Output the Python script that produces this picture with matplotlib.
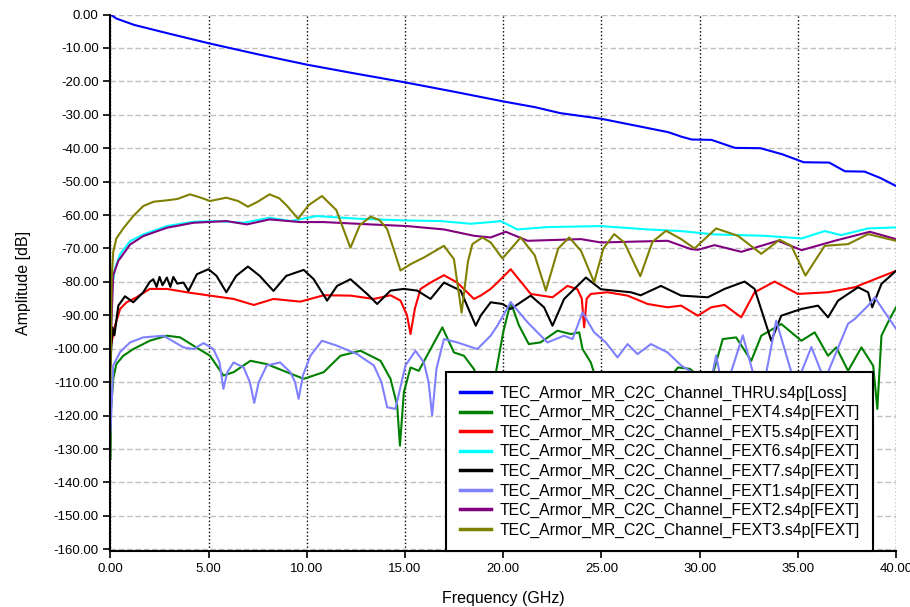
import matplotlib
matplotlib.use("Agg")
import matplotlib.pyplot as plt

plt.rcParams['font.family'] = ['Liberation Sans', 'DejaVu Sans']

# THRU loss
thru_f = [0, 0.3, 1.2, 2.9, 5, 7.5, 10, 12.5, 15, 17.5, 20, 21.6, 22.9, 25, 26.7, 28.4,
          29.1, 29.6, 30.6, 31.8, 33.1, 34.2, 35.3, 36.6, 37.4, 38.4, 39.2, 40]
thru_db = [0, -1.2, -3.1, -5.6, -8.6, -11.9, -15.0, -17.7, -20.3, -23.1, -26.0, -27.7,
           -29.5, -31.2, -33.2, -35.2, -36.6, -37.4, -37.5, -39.9, -40.0, -41.8, -44.2,
           -44.3, -46.9, -47.0, -48.9, -51.3]

# FEXT4 (green)
f4_f = [0, 0.03, 0.14, 0.3, 0.65, 1.16, 2.0, 2.87, 3.55, 4.23, 5.07, 5.75, 6.27, 7.13,
        7.96, 8.98, 9.84, 10.86, 11.71, 12.73, 13.75, 14.26, 14.6, 14.74, 14.94, 15.28,
        15.7, 16.3, 16.9, 17.49, 18.0, 18.51, 19.0, 19.6, 20.0, 20.38, 20.8, 21.3, 21.9,
        22.76, 23.44, 23.87, 24.04, 24.46, 25.2, 26.2, 27.3, 28.3, 28.9, 29.5, 29.9,
        30.3, 30.7, 31.18, 31.86, 32.63, 33.14, 34.16, 35.18, 35.86, 36.54, 36.96, 37.56,
        38.24, 38.84, 39.05, 39.26, 39.6, 40]
f4_db = [-133, -118, -109, -104.6, -102.1, -100.1, -97.6, -96.1, -96.6, -99.1, -102.1,
         -108, -107, -103.6, -104.6, -107, -109, -107, -102.1, -100.6, -103.6, -109, -117,
         -129, -113, -105.6, -106.6, -100.1, -93.6, -101.1, -102.1, -106.1, -114, -108,
         -95, -86.1, -93, -98.6, -98.1, -94.6, -95.6, -95.1, -100.1, -104.1, -118, -107,
         -118, -110, -105.6, -106, -108, -118, -107, -97.1, -96.6, -103.6, -96.1, -92.6,
         -97.6, -95.1, -102.1, -99.6, -106.6, -99.6, -105.1, -118, -96.1, -92, -87.6]

# FEXT5 (red)
f5_f = [0, 0.06, 0.23, 0.49, 0.82, 1.33, 2.0, 2.87, 3.88, 5.07, 6.27, 7.3, 8.3, 9.67,
        10.86, 12.22, 13.41, 14.26, 14.77, 15.1, 15.28, 15.5, 15.79, 16.3, 16.98, 17.66,
        18.51, 18.85, 19.36, 19.7, 20.38, 21.4, 22.51, 23.27, 23.78, 24.0, 24.12, 24.25,
        24.46, 25.31, 26.33, 27.35, 28.37, 29.06, 29.91, 30.59, 31.27, 32.12, 32.8, 33.82,
        35.0, 36.54, 37.9, 38.92, 40]
f5_db = [-100, -98, -93.1, -88.1, -86.1, -84.6, -82.1, -82.1, -83.1, -84.1, -85.1, -86.9,
         -85.1, -85.9, -84, -84.1, -85.1, -84, -85.6, -90, -95.6, -88, -82.1, -80.2, -78,
         -80.2, -85.1, -84.1, -82.1, -80.2, -76.2, -83.6, -84.6, -81.2, -82.2, -85, -93.6,
         -85, -83.6, -83.1, -84.1, -86.6, -87.6, -87.1, -90.1, -87.6, -86.9, -90.6, -83.1,
         -79.9, -83.6, -83.1, -81.6, -79.2, -76.7]

# FEXT6 (cyan)
f6_f = [0, 0.06, 0.23, 0.49, 1.0, 1.67, 2.87, 4.23, 5.4, 6.8, 8.1, 9.16, 10.5, 12.6,
        14.94, 16.8, 18.35, 19.36, 19.87, 20.72, 22.25, 24.97, 27.35, 29.06, 30.76, 33.3,
        35.2, 36.37, 37.2, 38.58, 40]
f6_db = [-100, -82, -76, -71.7, -67.8, -65.8, -63.3, -62, -61.8, -62.3, -60.8, -61.8,
         -60.3, -61.1, -61.6, -61.8, -62.6, -62.1, -61.8, -64.3, -63.6, -63.3, -64.3,
         -64.8, -65.8, -66.2, -67, -64.8, -66, -64, -63.7]

# FEXT7 (black)
f7_f = [0, 0.03, 0.1, 0.2, 0.4, 0.74, 1.16, 1.67, 2.0, 2.18, 2.35, 2.5, 2.65, 2.87, 3.05,
        3.2, 3.4, 3.72, 3.97, 4.4, 4.99, 5.4, 5.9, 6.4, 7.0, 7.6, 8.3, 8.95, 9.84, 10.35,
        11.03, 11.54, 12.22, 13.07, 13.58, 14.26, 14.94, 15.62, 16.3, 16.98, 17.83, 18.6,
        18.85, 19.36, 19.96, 20.38, 21.4, 22.08, 22.51, 23.1, 24.21, 24.97, 26.5, 27.0,
        28.03, 29.06, 30.42, 31.27, 32.29, 32.8, 33.65, 34.16, 35.18, 36.03, 36.54, 37.05,
        38.07, 38.58, 38.79, 39.26, 40]
f7_db = [-105, -101, -93.6, -96, -87.1, -84.3, -86.1, -83.1, -80, -79.2, -81.5, -78.5,
         -81, -78.7, -81.5, -78.5, -80.5, -80.2, -82.7, -77.7, -76.2, -78.2, -83.1, -78.2,
         -75.4, -78.2, -82.7, -78.2, -76.4, -79.2, -85.6, -81.2, -79.2, -83.6, -86.6,
         -82.6, -82.1, -82.6, -85.1, -80.2, -82.6, -93.1, -90.1, -86.1, -86.6, -88.1,
         -84.1, -87.6, -93.1, -85.1, -78.7, -82.2, -83.1, -84, -81.2, -84.1, -84.6, -82.1,
         -79.9, -82.1, -97.6, -90.1, -88.1, -87.1, -90.6, -85.6, -81.6, -83.1, -87.6,
         -80.6, -76.7]

# FEXT1 (lavender)
f1_f = [0, 0.14, 0.49, 1.0, 1.67, 2.7, 3.72, 4.23, 4.74, 5.24, 5.55, 5.75, 5.95, 6.27,
        6.78, 7.1, 7.32, 7.55, 7.96, 8.64, 9.16, 9.4, 9.58, 9.8, 10.18, 10.77, 11.54,
        12.56, 13.41, 13.8, 14.09, 14.51, 15.02, 15.53, 15.96, 16.2, 16.38, 16.6, 16.98,
        17.66, 18.68, 19.36, 19.7, 20.38, 21.24, 22.25, 23.1, 23.53, 24.04, 24.63, 25.22,
        25.82, 26.33, 26.84, 27.52, 28.37, 29.06, 29.74, 30.2, 30.67, 30.84, 31.01, 31.3,
        31.6, 32.2, 32.71, 33.05, 33.4, 33.9, 34.67, 34.95, 35.18, 35.69, 36.2, 36.35,
        36.54, 37.56, 37.9, 38.58, 38.92, 39.43, 40]
f1_db = [-125, -105, -101, -98.1, -96.6, -96.1, -99.6, -100.1, -98.3, -100.1, -104,
         -112, -107, -104.1, -105.6, -110, -116.2, -110, -105, -104.1, -107, -110, -115,
         -108, -102.1, -97.6, -99.1, -101.6, -105, -110, -117.5, -118, -105, -100.6,
         -104.1, -110, -120, -106, -97.1, -98.1, -100.1, -96.1, -93.1, -86.1, -92.1, -98.1,
         -96.1, -97.1, -89.1, -95.1, -98.1, -102.6, -98.6, -101.6, -98.6, -101.1, -105,
         -107.5, -118, -107, -102, -107, -118, -107, -96, -107, -118, -107, -91.6, -107,
         -118, -107, -99.5, -107, -113, -107, -92.5, -91.1, -87.1, -84.6, -89.1, -94]

# FEXT2 (purple)
f2_f = [0, 0.14, 0.4, 1.0, 1.67, 2.87, 4.23, 5.9, 6.95, 8.1, 9.67, 10.86, 13.24, 15.11,
        16.98, 18.51, 19.36, 20.13, 21.24, 23.96, 24.97, 28.37, 29.56, 29.91, 30.76, 32.12,
        33.99, 35.2, 36.88, 38.67, 40]
f2_db = [-100, -78, -73.7, -68.8, -66.3, -63.8, -62.3, -61.8, -62.8, -61.3, -62.1, -62.1,
         -62.8, -63.3, -64.3, -66.2, -66.7, -65, -67.7, -67.2, -68.2, -67.7, -70.2, -70.4,
         -69, -71, -67.7, -70.5, -67.7, -65, -67.2]

# FEXT3 (olive)
f3_f = [0, 0.06, 0.14, 0.3, 0.65, 1.16, 1.67, 2.2, 2.87, 3.4, 4.05, 4.6, 5.07, 5.9, 6.5,
        7.0, 7.5, 8.1, 8.6, 9.0, 9.55, 10.1, 10.77, 11.5, 12.22, 12.7, 13.24, 13.7, 14.09,
        14.77, 15.28, 15.96, 16.98, 17.49, 17.88, 18.2, 18.43, 18.94, 19.36, 19.96, 20.89,
        21.6, 22.17, 22.8, 23.36, 23.96, 24.63, 25.1, 25.65, 26.16, 26.98, 27.6, 28.29,
        29.06, 29.74, 30.84, 31.95, 33.14, 34.07, 34.67, 35.39, 36.37, 37.56, 38.58, 40]
f3_db = [-110, -79, -71, -67, -64, -60.3, -57.3, -56, -55.6, -55.2, -53.8, -54.8, -55.8,
         -54.8, -55.8, -57.5, -56, -53.8, -55, -57.3, -61.1, -57, -54.3, -58.5, -69.8, -63,
         -60.5, -61.5, -64.2, -76.6, -74.7, -72.7, -69.2, -73.2, -89.2, -74, -68.7, -66.7,
         -68.2, -73, -66.7, -72, -82.6, -70, -66.7, -70.7, -80.1, -70, -65.7, -68.2, -78.3,
         -68, -64.7, -67.2, -70, -64, -66.2, -71.6, -67.4, -69.2, -78.1, -69.2, -68.7,
         -65.7, -67.7]

series = [
    (thru_f, thru_db, "#0000FF", "TEC_Armor_MR_C2C_Channel_THRU.s4p[Loss]"),
    (f4_f, f4_db, "#008000", "TEC_Armor_MR_C2C_Channel_FEXT4.s4p[FEXT]"),
    (f5_f, f5_db, "#FF0000", "TEC_Armor_MR_C2C_Channel_FEXT5.s4p[FEXT]"),
    (f6_f, f6_db, "#00FFFF", "TEC_Armor_MR_C2C_Channel_FEXT6.s4p[FEXT]"),
    (f7_f, f7_db, "#000000", "TEC_Armor_MR_C2C_Channel_FEXT7.s4p[FEXT]"),
    (f1_f, f1_db, "#8080FF", "TEC_Armor_MR_C2C_Channel_FEXT1.s4p[FEXT]"),
    (f2_f, f2_db, "#800080", "TEC_Armor_MR_C2C_Channel_FEXT2.s4p[FEXT]"),
    (f3_f, f3_db, "#808000", "TEC_Armor_MR_C2C_Channel_FEXT3.s4p[FEXT]"),
]

fig = plt.figure(figsize=(9.1, 6.07), dpi=100)
ax = fig.add_axes([0.1214, 0.0923, 0.8632, 0.8838])

for f, db, c, name in series:
    ax.plot(f, db, color=c, lw=1.5, label=name)

ax.set_xlim(0, 40)
ax.set_ylim(-160.5, 0)
ax.set_xticks(range(0, 41, 5))
ax.set_xticklabels([f"{v:.2f}" for v in range(0, 41, 5)])
ax.set_yticks(range(-160, 1, 10))
ax.set_yticklabels([f"{v:.2f}" for v in range(-160, 1, 10)])
ax.tick_params(labelsize=9.5, length=5, width=1.2, colors="black")

ax.grid(axis="y", ls=(0, (4, 2)), color="#c0c0c0", lw=1)
ax.grid(axis="x", ls=":", color="black", lw=1)
ax.spines["top"].set_visible(False)
ax.spines["right"].set_visible(False)
ax.spines["left"].set_linewidth(1.5)
ax.spines["bottom"].set_linewidth(1.5)

ax.set_xlabel("Frequency (GHz)", fontsize=11.5, labelpad=12)
ax.set_ylabel("Amplitude [dB]", fontsize=11.5, labelpad=16)

leg = ax.legend(loc="lower right", bbox_to_anchor=(0.971, 0.0), borderaxespad=0,
                fontsize=11.3, handlelength=2.0, handletextpad=0.55, labelspacing=0.28,
                fancybox=False, framealpha=1, edgecolor="black", borderpad=0.85)
leg.get_frame().set_linewidth(1.5)
for line in leg.get_lines():
    line.set_linewidth(2.5)

fig.savefig("out.png", dpi=100)
